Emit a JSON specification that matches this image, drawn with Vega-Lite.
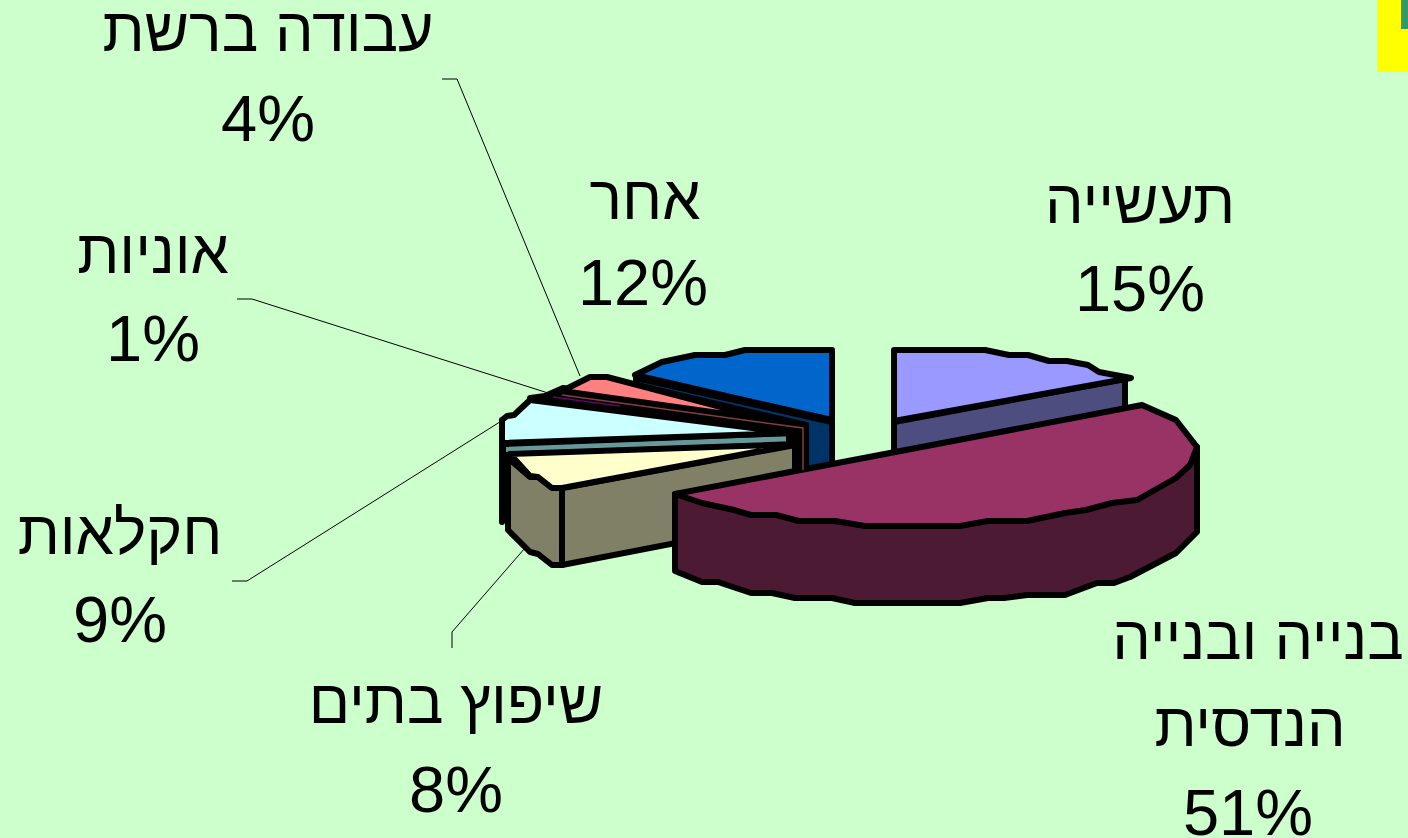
{"$schema":"https://vega.github.io/schema/vega-lite/v6.json","width":1408,"height":838,"padding":0,"autosize":{"type":"none"},"background":"#CCFFCC","view":{"stroke":null},
"resolve":{"scale":{"fill":"independent","stroke":"independent"}},
"datasets":{
"corner":[{"x":1377,"x2":1408,"y":0,"y2":72,"c":"yellow"},{"x":1401,"x2":1408,"y":0,"y2":29,"c":"green"}],
"leaders":[
{"id":"a","s":1,"x":442,"y":79},{"id":"a","s":2,"x":457,"y":79},{"id":"a","s":3,"x":580,"y":376},
{"id":"b","s":1,"x":237,"y":299},{"id":"b","s":2,"x":252,"y":299},{"id":"b","s":3,"x":548,"y":393},
{"id":"c","s":1,"x":232,"y":581},{"id":"c","s":2,"x":247,"y":581},{"id":"c","s":3,"x":503,"y":420},
{"id":"d","s":1,"x":452,"y":648},{"id":"d","s":2,"x":452,"y":632},{"id":"d","s":3,"x":525,"y":548}],
"faces":[
{"p":"01 other side","s":1,"x":636,"y":378},{"p":"01 other side","s":2,"x":832,"y":422},{"p":"01 other side","s":3,"x":832,"y":480},{"p":"01 other side","s":4,"x":806,"y":480},{"p":"01 other side","s":5,"x":806,"y":425},{"p":"01 other side","s":6,"x":636,"y":385},{"p":"01 other side","s":7,"x":636,"y":378},
{"p":"02 other top","s":1,"x":635,"y":375},{"p":"02 other top","s":2,"x":662,"y":362},{"p":"02 other top","s":3,"x":695,"y":355},{"p":"02 other top","s":4,"x":725,"y":355},{"p":"02 other top","s":5,"x":745,"y":350},{"p":"02 other top","s":6,"x":832,"y":350},{"p":"02 other top","s":7,"x":832,"y":420},{"p":"02 other top","s":8,"x":635,"y":375},
{"p":"03 industry side","s":1,"x":894,"y":422},{"p":"03 industry side","s":2,"x":1125,"y":379},{"p":"03 industry side","s":3,"x":1125,"y":425},{"p":"03 industry side","s":4,"x":894,"y":465},{"p":"03 industry side","s":5,"x":894,"y":422},
{"p":"04 industry top","s":1,"x":894,"y":350},{"p":"04 industry top","s":2,"x":985,"y":350},{"p":"04 industry top","s":3,"x":1009,"y":355},{"p":"04 industry top","s":4,"x":1028,"y":355},{"p":"04 industry top","s":5,"x":1049,"y":361},{"p":"04 industry top","s":6,"x":1067,"y":361},{"p":"04 industry top","s":7,"x":1088,"y":365},{"p":"04 industry top","s":8,"x":1099,"y":372},{"p":"04 industry top","s":9,"x":1131,"y":378},{"p":"04 industry top","s":10,"x":894,"y":421},{"p":"04 industry top","s":11,"x":894,"y":350},
{"p":"05 band","s":1,"x":545,"y":396},{"p":"05 band","s":2,"x":563,"y":388},{"p":"05 band","s":3,"x":750,"y":415},{"p":"05 band","s":4,"x":806,"y":425},{"p":"05 band","s":5,"x":806,"y":480},{"p":"05 band","s":6,"x":790,"y":480},{"p":"05 band","s":7,"x":790,"y":432},{"p":"05 band","s":8,"x":530,"y":398},{"p":"05 band","s":9,"x":545,"y":396},
{"p":"06 network top","s":1,"x":562,"y":391},{"p":"06 network top","s":2,"x":590,"y":377},{"p":"06 network top","s":3,"x":607,"y":377},{"p":"06 network top","s":4,"x":770,"y":420},{"p":"06 network top","s":5,"x":562,"y":391},
{"p":"07 cyan side","s":1,"x":503,"y":444},{"p":"07 cyan side","s":2,"x":789,"y":433},{"p":"07 cyan side","s":3,"x":789,"y":445},{"p":"07 cyan side","s":4,"x":503,"y":455},{"p":"07 cyan side","s":5,"x":503,"y":444},
{"p":"08 cyan top","s":1,"x":502,"y":420},{"p":"08 cyan top","s":2,"x":507,"y":416},{"p":"08 cyan top","s":3,"x":514,"y":415},{"p":"08 cyan top","s":4,"x":530,"y":400},{"p":"08 cyan top","s":5,"x":793,"y":433},{"p":"08 cyan top","s":6,"x":502,"y":443},{"p":"08 cyan top","s":7,"x":502,"y":420},
{"p":"09 cyan edge","s":1,"x":502,"y":442},{"p":"09 cyan edge","s":2,"x":502,"y":522},{"p":"09 cyan edge","s":3,"x":502,"y":442},
{"p":"10 homes front","s":1,"x":562,"y":488},{"p":"10 homes front","s":2,"x":795,"y":445},{"p":"10 homes front","s":3,"x":795,"y":520},{"p":"10 homes front","s":4,"x":562,"y":565},{"p":"10 homes front","s":5,"x":562,"y":488},
{"p":"11 homes left","s":1,"x":508,"y":458},{"p":"11 homes left","s":2,"x":530,"y":477},{"p":"11 homes left","s":3,"x":538,"y":477},{"p":"11 homes left","s":4,"x":552,"y":488},{"p":"11 homes left","s":5,"x":562,"y":488},{"p":"11 homes left","s":6,"x":562,"y":565},{"p":"11 homes left","s":7,"x":552,"y":565},{"p":"11 homes left","s":8,"x":538,"y":554},{"p":"11 homes left","s":9,"x":530,"y":552},{"p":"11 homes left","s":10,"x":508,"y":530},{"p":"11 homes left","s":11,"x":508,"y":458},
{"p":"12 homes top","s":1,"x":510,"y":454},{"p":"12 homes top","s":2,"x":530,"y":476},{"p":"12 homes top","s":3,"x":538,"y":477},{"p":"12 homes top","s":4,"x":552,"y":488},{"p":"12 homes top","s":5,"x":562,"y":488},{"p":"12 homes top","s":6,"x":797,"y":444},{"p":"12 homes top","s":7,"x":510,"y":454},
{"p":"13 build side","s":1,"x":675,"y":494},{"p":"13 build side","s":2,"x":1197,"y":447},{"p":"13 build side","s":3,"x":1197,"y":532},{"p":"13 build side","s":4,"x":1176,"y":553},{"p":"13 build side","s":5,"x":1130,"y":577},{"p":"13 build side","s":6,"x":1114,"y":583},{"p":"13 build side","s":7,"x":1097,"y":583},{"p":"13 build side","s":8,"x":1065,"y":595},{"p":"13 build side","s":9,"x":1027,"y":595},{"p":"13 build side","s":10,"x":1004,"y":598},{"p":"13 build side","s":11,"x":988,"y":598},{"p":"13 build side","s":12,"x":960,"y":603},{"p":"13 build side","s":13,"x":855,"y":603},{"p":"13 build side","s":14,"x":832,"y":598},{"p":"13 build side","s":15,"x":795,"y":598},{"p":"13 build side","s":16,"x":772,"y":593},{"p":"13 build side","s":17,"x":751,"y":593},{"p":"13 build side","s":18,"x":718,"y":582},{"p":"13 build side","s":19,"x":702,"y":582},{"p":"13 build side","s":20,"x":675,"y":571},{"p":"13 build side","s":21,"x":675,"y":494},
{"p":"14 build top","s":1,"x":675,"y":494},{"p":"14 build top","s":2,"x":702,"y":503},{"p":"14 build top","s":3,"x":734,"y":510},{"p":"14 build top","s":4,"x":751,"y":515},{"p":"14 build top","s":5,"x":776,"y":515},{"p":"14 build top","s":6,"x":799,"y":521},{"p":"14 build top","s":7,"x":835,"y":521},{"p":"14 build top","s":8,"x":865,"y":526},{"p":"14 build top","s":9,"x":960,"y":526},{"p":"14 build top","s":10,"x":988,"y":521},{"p":"14 build top","s":11,"x":1027,"y":521},{"p":"14 build top","s":12,"x":1065,"y":513},{"p":"14 build top","s":13,"x":1086,"y":510},{"p":"14 build top","s":14,"x":1112,"y":503},{"p":"14 build top","s":15,"x":1137,"y":500},{"p":"14 build top","s":16,"x":1176,"y":478},{"p":"14 build top","s":17,"x":1190,"y":465},{"p":"14 build top","s":18,"x":1197,"y":447},{"p":"14 build top","s":19,"x":1176,"y":420},{"p":"14 build top","s":20,"x":1142,"y":405},{"p":"14 build top","s":21,"x":675,"y":494}],
"thin":[
{"id":"net","s":1,"x":562,"y":395},{"id":"net","s":2,"x":803,"y":428},{"id":"net","s":3,"x":803,"y":470},
{"id":"ships","s":1,"x":553,"y":397},{"id":"ships","s":2,"x":620,"y":406}],
"names":[
{"t":"עבודה ברשת","x":268,"y":51},
{"t":"אחר","x":645,"y":219},
{"t":"תעשייה","x":1140,"y":223},
{"t":"אוניות","x":153,"y":273},
{"t":"חקלאות","x":120,"y":554},
{"t":"שיפוץ בתים","x":456,"y":723},
{"t":"בנייה ובנייה","x":1258,"y":659},{"t":"הנדסית","x":1250,"y":746}],
"shares":[
{"t":"4%","x":268,"y":141},{"t":"12%","x":643,"y":305},{"t":"15%","x":1140,"y":311},{"t":"1%","x":153,"y":361},{"t":"9%","x":120,"y":642},{"t":"8%","x":456,"y":812},{"t":"51%","x":1248,"y":835}]
},
"encoding":{"x":{"field":"x","type":"quantitative","scale":{"domain":[0,1408],"nice":false,"zero":false},"axis":null},"y":{"field":"y","type":"quantitative","scale":{"domain":[838,0],"nice":false,"zero":false},"axis":null}},
"layer":[
{"data":{"name":"corner"},"mark":{"type":"rect"},"encoding":{"x2":{"field":"x2"},"y2":{"field":"y2"},"fill":{"field":"c","type":"nominal","scale":{"domain":["yellow","green"],"range":["#FFFF00","#339966"]},"legend":null}}},
{"data":{"name":"leaders"},"mark":{"type":"line","stroke":"#000000","strokeWidth":1},"encoding":{"detail":{"field":"id"},"order":{"field":"s","type":"quantitative"}}},
{"data":{"name":"faces"},"mark":{"type":"line","filled":true,"stroke":"#000000","strokeWidth":6,"strokeJoin":"round","strokeCap":"round"},"encoding":{"detail":{"field":"p"},"order":{"field":"s","type":"quantitative"},"fill":{"field":"p","type":"nominal","sort":null,"legend":null,"scale":{"domain":["01 other side","02 other top","03 industry side","04 industry top","05 band","06 network top","07 cyan side","08 cyan top","09 cyan edge","10 homes front","11 homes left","12 homes top","13 build side","14 build top"],"range":["#003366","#0066CC","#4D4D80","#9999FF","#000000","#FF8080","#669999","#CCFFFF","#000000","#808066","#808066","#FFFFCC","#4D1A33","#993366"]}}}},
{"data":{"name":"thin"},"mark":{"type":"line","strokeWidth":1.5},"encoding":{"detail":{"field":"id"},"order":{"field":"s","type":"quantitative"},"stroke":{"field":"id","type":"nominal","legend":null,"scale":{"domain":["net","ships"],"range":["#804040","#660066"]}}}},
{"data":{"name":"names"},"mark":{"type":"text","font":"Liberation Sans","fontSize":61,"align":"center","baseline":"alphabetic","color":"#000000"},"encoding":{"text":{"field":"t"}}},
{"data":{"name":"shares"},"mark":{"type":"text","font":"Liberation Sans","fontSize":65,"align":"center","baseline":"alphabetic","color":"#000000"},"encoding":{"text":{"field":"t"}}}
]}
